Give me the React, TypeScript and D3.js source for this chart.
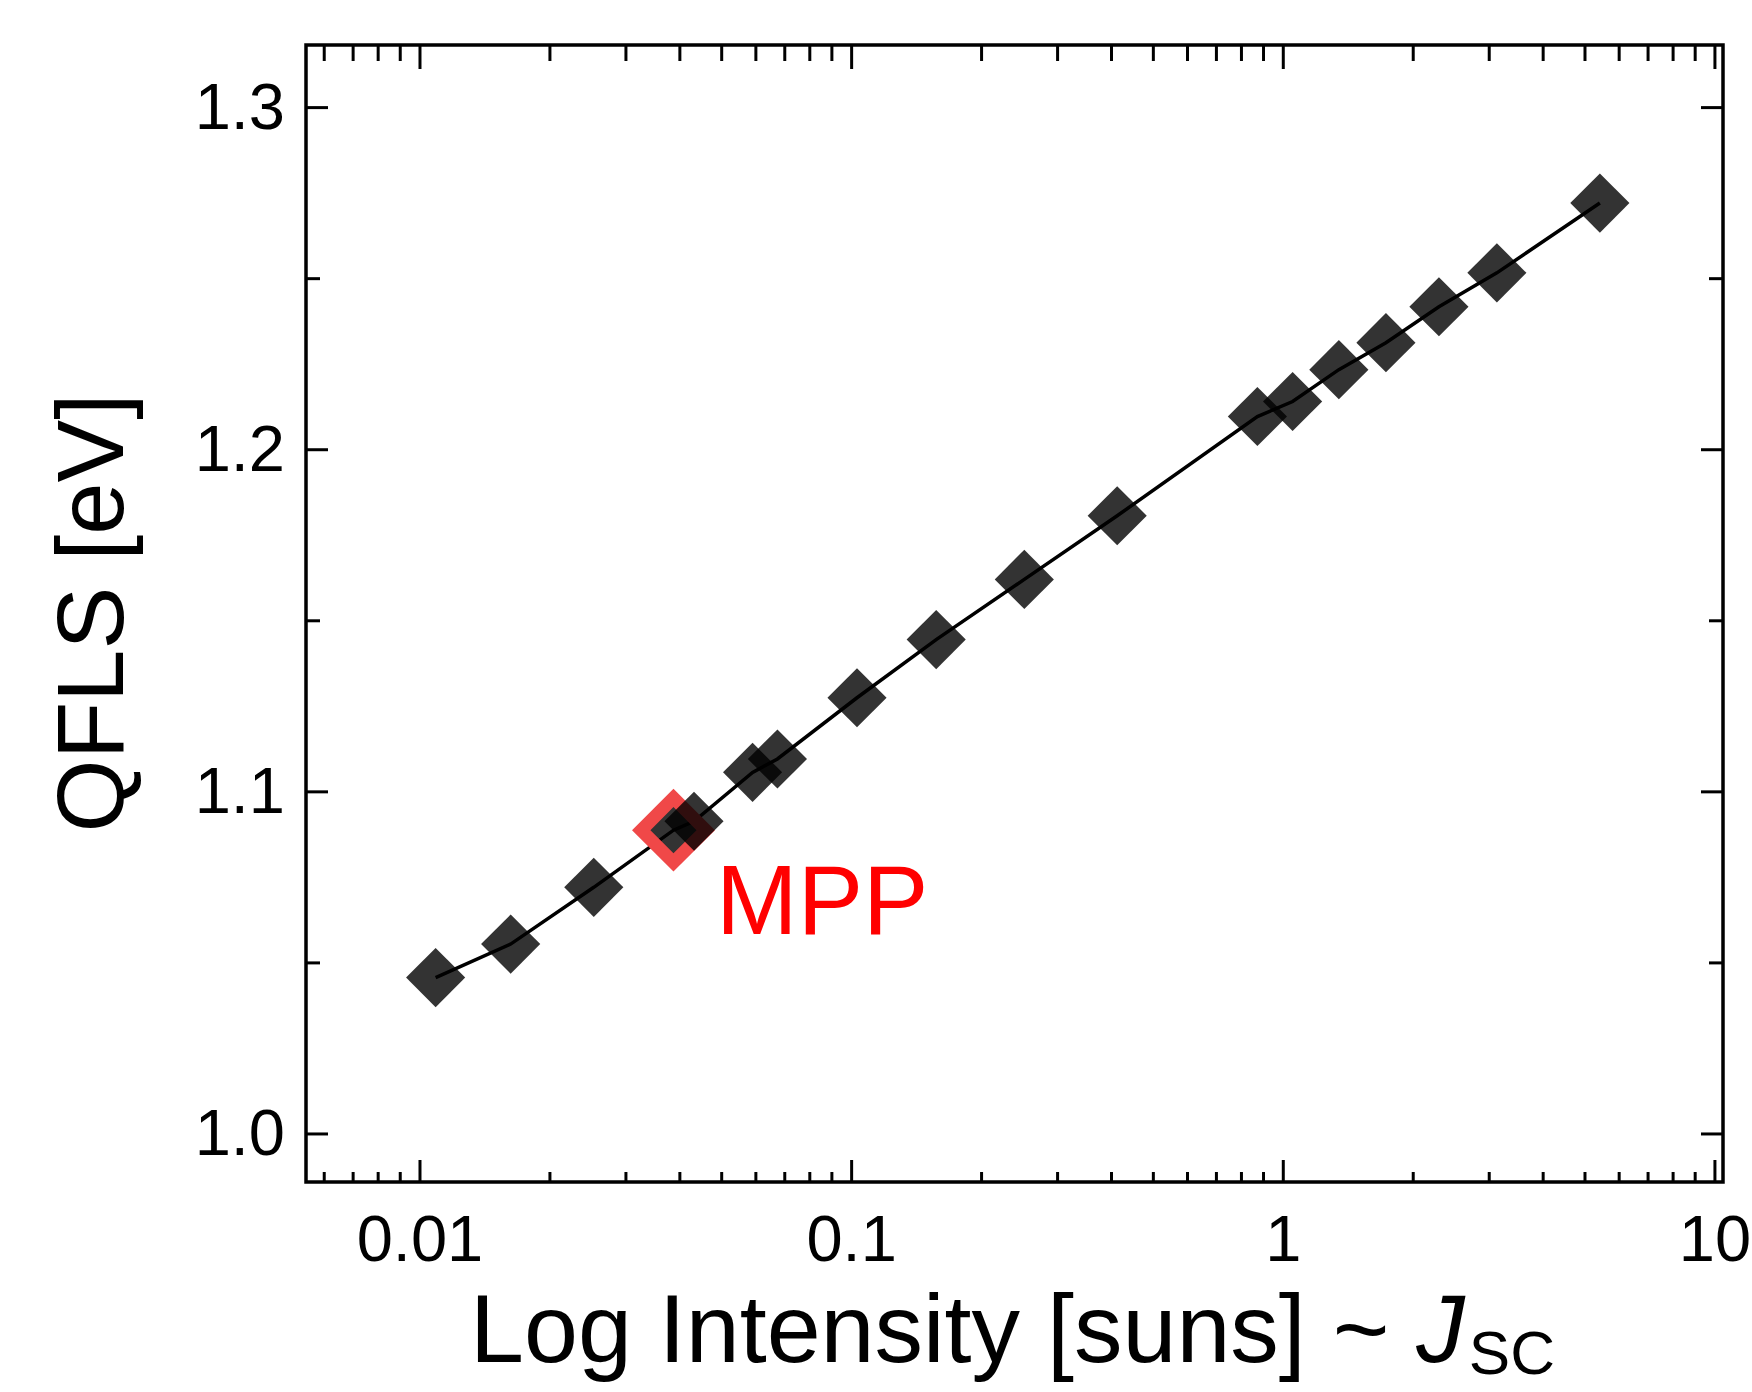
import React, { useEffect, useRef } from 'react';
import * as d3 from 'd3';

// measured points (intensity in suns, QFLS in eV)
const intensity = [0.01087, 0.01622, 0.02527, 0.03866, 0.04313, 0.05895, 0.06731, 0.1029, 0.157, 0.2512, 0.4123, 0.871, 1.051, 1.345, 1.729, 2.294, 3.125, 5.413];
const qfls = [1.0457, 1.0555, 1.0721, 1.0888, 1.0914, 1.1057, 1.1096, 1.1275, 1.1445, 1.1621, 1.1807, 1.2097, 1.2141, 1.2234, 1.2313, 1.2418, 1.2517, 1.2721];
const mppIndex = 3;
const mppLabel = 'MPP';

const xTicks = [0.01, 0.1, 1, 10];
const xTickLabels = ['0.01', '0.1', '1', '10'];
const yTicks = [1.0, 1.1, 1.2, 1.3];
const yTickLabels = ['1.0', '1.1', '1.2', '1.3'];
const yMinorTicks = [1.05, 1.15, 1.25];

const yTitle = 'QFLS [eV]';
const xTitle = 'Log Intensity [suns] ~ ';

export default function App() {
    const ref = useRef<SVGSVGElement | null>(null);

    useEffect(() => {
        // SETTINGS
        const width = 1752;
        const height = 1392;
        const left = 306, right = 1723, top = 45, bottom = 1182;
        const font = '"Liberation Sans", Arial, sans-serif';
        const majorLen = 22;
        const minorLen = 14;
        const lineW = 3.5;

        const svg = d3.select(ref.current);
        svg.selectAll('*').remove();
        svg.attr('width', width).attr('height', height);

        // SCALES
        const x = d3.scaleLog().domain([0.005444, 10.44]).range([left, right]);
        const y = d3.scaleLinear().domain([0.98596, 1.3183]).range([bottom, top]);

        // minor x ticks: 2..9 of each decade inside domain
        const xMinor: number[] = [];
        [0.001, 0.01, 0.1, 1].forEach(dec => {
            for (let m = 2; m <= 9; m++) {
                const v = dec * m;
                if (v > x.domain()[0] && v < x.domain()[1]) xMinor.push(v);
            }
        });

        const ticks = svg.append('g')
            .attr('stroke', '#000')
            .attr('stroke-width', 3);

        // bottom + top ticks (inward)
        xTicks.forEach(v => {
            ticks.append('line').attr('x1', x(v)).attr('x2', x(v)).attr('y1', bottom).attr('y2', bottom - majorLen);
            ticks.append('line').attr('x1', x(v)).attr('x2', x(v)).attr('y1', top).attr('y2', top + majorLen + 2);
        });
        xMinor.forEach(v => {
            ticks.append('line').attr('x1', x(v)).attr('x2', x(v)).attr('y1', bottom).attr('y2', bottom - 10);
            ticks.append('line').attr('x1', x(v)).attr('x2', x(v)).attr('y1', top).attr('y2', top + minorLen + 2);
        });
        // left + right ticks (inward)
        yTicks.forEach(v => {
            ticks.append('line').attr('x1', left).attr('x2', left + majorLen).attr('y1', y(v)).attr('y2', y(v));
            ticks.append('line').attr('x1', right).attr('x2', right - majorLen).attr('y1', y(v)).attr('y2', y(v));
        });
        yMinorTicks.forEach(v => {
            ticks.append('line').attr('x1', left).attr('x2', left + minorLen).attr('y1', y(v)).attr('y2', y(v));
            ticks.append('line').attr('x1', right).attr('x2', right - minorLen).attr('y1', y(v)).attr('y2', y(v));
        });

        // frame
        svg.append('rect')
            .attr('x', left).attr('y', top)
            .attr('width', right - left).attr('height', bottom - top)
            .attr('fill', 'none')
            .attr('stroke', '#000')
            .attr('stroke-width', lineW);

        // tick labels
        svg.append('g').selectAll('text')
            .data(xTicks)
            .enter().append('text')
            .attr('x', d => x(d))
            .attr('y', 1261)
            .attr('text-anchor', 'middle')
            .attr('font-family', font)
            .attr('font-size', 65)
            .text((d, i) => xTickLabels[i]);

        svg.append('g').selectAll('text')
            .data(yTicks)
            .enter().append('text')
            .attr('x', 285)
            .attr('y', d => y(d) + 21)
            .attr('text-anchor', 'end')
            .attr('font-family', font)
            .attr('font-size', 65)
            .text((d, i) => yTickLabels[i]);

        // axis titles
        svg.append('text')
            .attr('transform', 'translate(123, 613) rotate(-90)')
            .attr('text-anchor', 'middle')
            .attr('font-family', font)
            .attr('font-size', 94)
            .text(yTitle);

        const xt = svg.append('text')
            .attr('x', 470)
            .attr('y', 1362)
            .attr('font-family', font)
            .attr('font-size', 97)
            .attr('xml:space', 'preserve');
        xt.append('tspan').text(xTitle);
        xt.append('tspan').attr('font-style', 'italic').text('J');
        xt.append('tspan').attr('font-size', 62).attr('dy', 12).attr('dx', 4).text('SC');

        // data line
        const data = intensity.map((v, i) => ({ x: v, y: qfls[i] }));
        const line = d3.line<{ x: number; y: number }>()
            .x(d => x(d.x))
            .y(d => y(d.y));

        svg.append('path')
            .datum(data)
            .attr('fill', 'none')
            .attr('stroke', '#000')
            .attr('stroke-width', 3.5)
            .attr('d', line);

        // diamond markers, red ring drawn right after the MPP point
        const diamond = d3.symbol().type(d3.symbolSquare).size(1750)();
        const ring = d3.symbol().type(d3.symbolSquare).size(2080)();
        const marks = svg.append('g');
        data.forEach((d, i) => {
            marks.append('path')
                .attr('d', diamond)
                .attr('transform', `translate(${x(d.x)}, ${y(d.y)}) rotate(45)`)
                .attr('fill', '#000')
                .attr('fill-opacity', 0.8);
            if (i === mppIndex) {
                marks.append('path')
                    .attr('d', ring)
                    .attr('transform', `translate(${x(d.x)}, ${y(d.y)}) rotate(45)`)
                    .attr('fill', 'none')
                    .attr('stroke', '#f04848')
                    .attr('stroke-width', 13);
            }
        });

        svg.append('text')
            .attr('x', 716)
            .attr('y', 934)
            .attr('font-family', font)
            .attr('font-size', 98)
            .attr('fill', '#ff0000')
            .text(mppLabel);
    }, []);

    return (
        <svg ref={ref} style={{ position: 'absolute', left: 0, top: 0, background: '#fff' }} />
    );
}
